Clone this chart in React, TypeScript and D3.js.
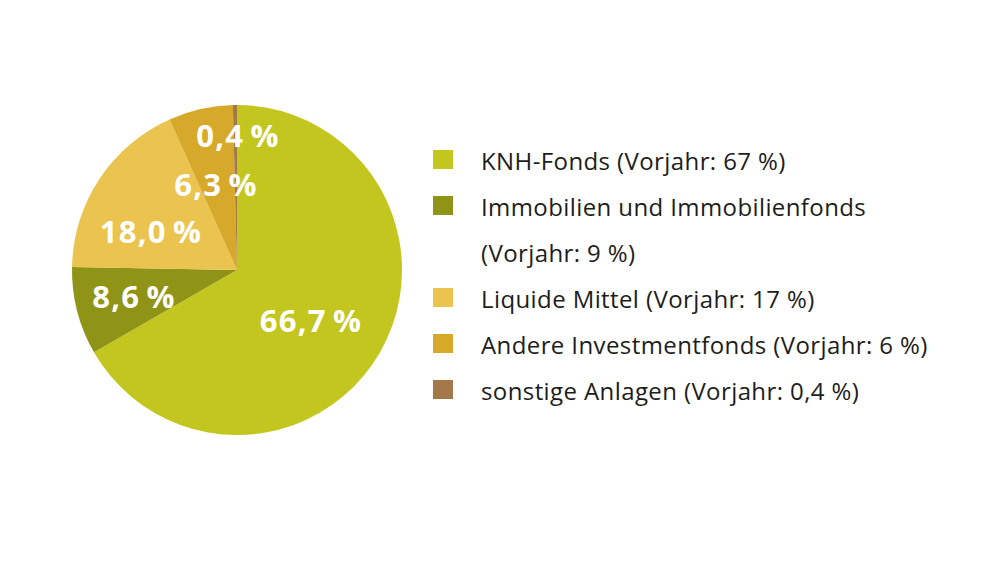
import React from "react";
import * as d3 from "d3";

const categories = [
  "KNH-Fonds",
  "Immobilien und Immobilienfonds",
  "Liquide Mittel",
  "Andere Investmentfonds",
  "sonstige Anlagen",
];
const values = [66.7, 8.6, 18.0, 6.3, 0.4];
const sliceLabels = ["66,7\u2009%", "8,6\u2009%", "18,0\u2009%", "6,3\u2009%", "0,4\u2009%"];
const legendLines = [
  ["KNH-Fonds (Vorjahr: 67 %)"],
  ["Immobilien und Immobilienfonds", "(Vorjahr: 9 %)"],
  ["Liquide Mittel (Vorjahr: 17 %)"],
  ["Andere Investmentfonds (Vorjahr: 6 %)"],
  ["sonstige Anlagen (Vorjahr: 0,4 %)"],
];
const colors = ["#c3c61f", "#8f9417", "#eac44e", "#d6a92a", "#a5784a"];

export default function App() {
  const W = 1000;
  const H = 562;
  const cx = 237;
  const cy = 270;
  const R = 165;
  const pie = d3.pie<number>().sort(null).value((d) => d)(values);
  const arc = d3.arc<d3.PieArcDatum<number>>().innerRadius(0).outerRadius(R);
  const labelOffsets: [number, number][] = [
    [311, 320],
    [134, 296],
    [151, 231],
    [216, 184],
    [238, 135],
  ];
  const legendX = 433;
  const textX = 481;
  const rowY = d3.scaleLinear().domain([0, 1]).range([160, 206]);
  let row = 0;
  const legendItems = legendLines.map((lines, i) => {
    const start = row;
    row += lines.length;
    return { i, start, lines, cat: categories[i] };
  });
  return (
    <svg
      width={W}
      height={H}
      style={{ position: "absolute", left: 0, top: 0, background: "#fff" }}
      fontFamily="'Open Sans', sans-serif"
    >
      <g transform={`translate(${cx},${cy})`}>
        {pie.map((p, i) => (
          <path key={i} d={arc(p) || ""} fill={colors[i]} />
        ))}
      </g>
      {pie.map((p, i) => (
        <text
          key={i}
          x={labelOffsets[i][0]}
          y={labelOffsets[i][1]}
          textAnchor="middle"
          dominantBaseline="central"
          fill="#fff"
          fontWeight={700}
          fontSize={31}
          letterSpacing={1.2}
        >
          {sliceLabels[i]}
        </text>
      ))}
      {legendItems.map(({ i, start, lines }) => (
        <g key={i}>
          <rect
            x={legendX}
            y={rowY(start) - 10}
            width={20}
            height={19}
            fill={colors[i]}
          />
          {lines.map((l, j) => (
            <text
              key={j}
              x={textX}
              y={rowY(start + j)}
              dominantBaseline="central"
              fontSize={24}
              letterSpacing={0.4}
              fill="#1d1d1b"
            >
              {l}
            </text>
          ))}
        </g>
      ))}
    </svg>
  );
}
